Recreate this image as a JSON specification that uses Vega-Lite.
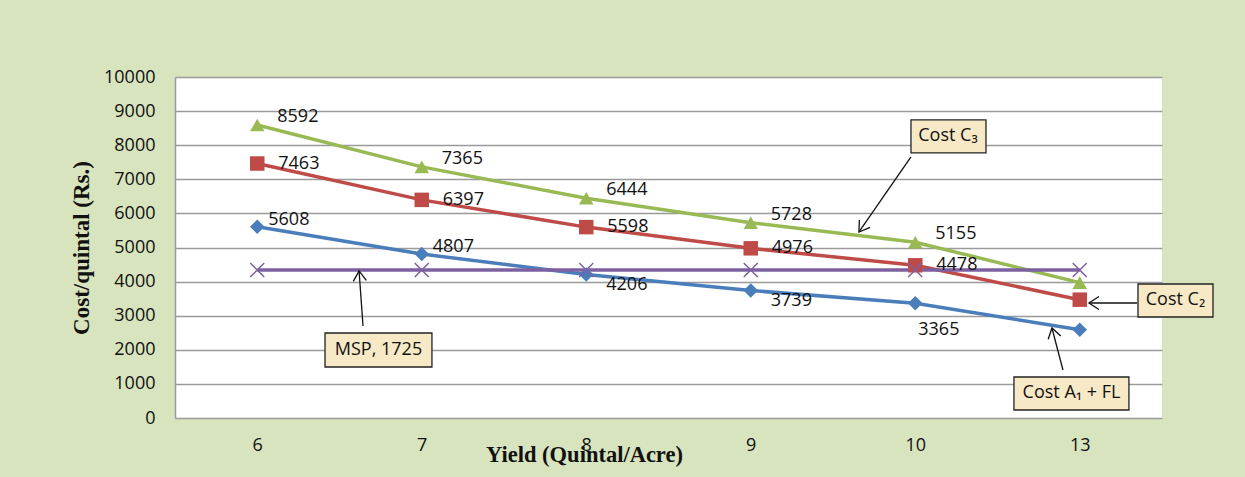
{
  "$schema": "https://vega.github.io/schema/vega-lite/v6.json",
  "width": 987,
  "height": 341,
  "autosize": {"type": "none"},
  "padding": {"left": 175, "top": 77, "right": 83, "bottom": 59},
  "background": "#D7E4BD",
  "config": {
    "view": {"fill": "white", "stroke": null},
    "font": "Open Sans",
    "text": {"font": "Open Sans", "fontSize": 18, "color": "#111"}
  },
  "resolve": {"scale": {"x": "independent", "y": "independent"}},
  "layer": [
    {
      "data": {
        "values": [
          {"yield": 6, "series": "Cost A1 + FL", "cost": 5608},
          {"yield": 7, "series": "Cost A1 + FL", "cost": 4807},
          {"yield": 8, "series": "Cost A1 + FL", "cost": 4206},
          {"yield": 9, "series": "Cost A1 + FL", "cost": 3739},
          {"yield": 10, "series": "Cost A1 + FL", "cost": 3365},
          {"yield": 13, "series": "Cost A1 + FL", "cost": 2590},
          {"yield": 6, "series": "Cost C2", "cost": 7463},
          {"yield": 7, "series": "Cost C2", "cost": 6397},
          {"yield": 8, "series": "Cost C2", "cost": 5598},
          {"yield": 9, "series": "Cost C2", "cost": 4976},
          {"yield": 10, "series": "Cost C2", "cost": 4478},
          {"yield": 13, "series": "Cost C2", "cost": 3470},
          {"yield": 6, "series": "Cost C3", "cost": 8592},
          {"yield": 7, "series": "Cost C3", "cost": 7365},
          {"yield": 8, "series": "Cost C3", "cost": 6444},
          {"yield": 9, "series": "Cost C3", "cost": 5728},
          {"yield": 10, "series": "Cost C3", "cost": 5155},
          {"yield": 13, "series": "Cost C3", "cost": 3970},
          {"yield": 6, "series": "MSP", "cost": 4340},
          {"yield": 7, "series": "MSP", "cost": 4340},
          {"yield": 8, "series": "MSP", "cost": 4340},
          {"yield": 9, "series": "MSP", "cost": 4340},
          {"yield": 10, "series": "MSP", "cost": 4340},
          {"yield": 13, "series": "MSP", "cost": 4340}
        ]
      },
      "encoding": {
        "x": {
          "field": "yield", "type": "ordinal",
          "scale": {"type": "point", "padding": 0.5},
          "axis": {
            "title": "Yield (Quintal/Acre)",
            "titleFont": "Liberation Serif", "titleFontSize": 22.5, "titleFontWeight": "bold", "titleColor": "#111",
            "titleX": 409, "titleY": 43, "titleBaseline": "alphabetic", "titleAlign": "center",
            "labelAngle": 0, "labelFont": "Open Sans", "labelFontSize": 18, "labelColor": "#111",
            "labelPadding": 18, "ticks": false, "domain": false, "grid": false
          }
        },
        "y": {
          "field": "cost", "type": "quantitative",
          "scale": {"domain": [0, 10000], "nice": false},
          "axis": {
            "title": "Cost/quintal (Rs.)",
            "titleFont": "Liberation Serif", "titleFontSize": 23, "titleFontWeight": "bold", "titleColor": "#111",
            "titleX": -94, "titleY": 170.5, "titleAngle": -90, "titleAlign": "center", "titleBaseline": "middle",
            "values": [0, 1000, 2000, 3000, 4000, 5000, 6000, 7000, 8000, 9000, 10000],
            "format": "d",
            "labelFont": "Open Sans", "labelFontSize": 18, "labelColor": "#111", "labelPadding": 20,
            "ticks": false, "domain": true, "domainColor": "#9A9A9A", "domainWidth": 1.5,
            "grid": true, "gridColor": "#9A9A9A", "gridWidth": 1.5
          }
        },
        "color": {
          "field": "series", "type": "nominal", "legend": null,
          "scale": {
            "domain": ["Cost A1 + FL", "Cost C2", "Cost C3", "MSP"],
            "range": ["#4A7EBB", "#BE4B48", "#98B954", "#7D60A0"]
          }
        }
      },
      "layer": [
        {"mark": {"type": "line", "strokeWidth": 3.5}},
        {
          "transform": [{"filter": "datum.series !== 'MSP'"}],
          "mark": {"type": "point", "filled": true, "opacity": 1, "size": 210},
          "encoding": {
            "shape": {
              "field": "series", "type": "nominal", "legend": null,
              "scale": {"domain": ["Cost A1 + FL", "Cost C2", "Cost C3"], "range": ["diamond", "square", "triangle-up"]}
            }
          }
        },
        {
          "transform": [{"filter": "datum.series === 'MSP'"}],
          "mark": {"type": "point", "filled": false, "opacity": 1, "size": 196, "strokeWidth": 1.5,
                   "shape": "M-1,-1L1,1M-1,1L1,-1"}
        },
        {
          "transform": [{"filter": "datum.series === 'Cost C3' && datum.yield !== 13"}],
          "mark": {"type": "text", "align": "left", "baseline": "middle", "dx": 20, "dy": -8},
          "encoding": {"text": {"field": "cost", "type": "quantitative", "format": "d"}, "color": {"value": "#111"}}
        },
        {
          "transform": [{"filter": "datum.series === 'Cost C2' && datum.yield !== 13"}],
          "mark": {"type": "text", "align": "left", "baseline": "middle", "dx": 21, "dy": 0},
          "encoding": {"text": {"field": "cost", "type": "quantitative", "format": "d"}, "color": {"value": "#111"}}
        },
        {
          "transform": [{"filter": "datum.series === 'Cost A1 + FL' && (datum.yield === 6 || datum.yield === 7)"}],
          "mark": {"type": "text", "align": "left", "baseline": "middle", "dx": 11, "dy": -7},
          "encoding": {"text": {"field": "cost", "type": "quantitative", "format": "d"}, "color": {"value": "#111"}}
        },
        {
          "transform": [{"filter": "datum.series === 'Cost A1 + FL' && (datum.yield === 8 || datum.yield === 9)"}],
          "mark": {"type": "text", "align": "left", "baseline": "middle", "dx": 20, "dy": 10},
          "encoding": {"text": {"field": "cost", "type": "quantitative", "format": "d"}, "color": {"value": "#111"}}
        },
        {
          "transform": [{"filter": "datum.series === 'Cost A1 + FL' && datum.yield === 10"}],
          "mark": {"type": "text", "align": "left", "baseline": "middle", "dx": 3, "dy": 27},
          "encoding": {"text": {"field": "cost", "type": "quantitative", "format": "d"}, "color": {"value": "#111"}}
        }
      ]
    },
    {
      "layer": [
        {
          "data": {
            "values": [
              {"x1": 4.474, "y1": 7655, "x2": 4.158, "y2": 5455},
              {"x1": 5.848, "y1": 3373, "x2": 5.556, "y2": 3373},
              {"x1": 5.398, "y1": 1408, "x2": 5.331, "y2": 2640},
              {"x1": 1.143, "y1": 2698, "x2": 1.119, "y2": 4312}
            ]
          },
          "mark": {"type": "rule", "color": "#111", "strokeWidth": 1.3},
          "encoding": {
            "x": {"field": "x1", "type": "quantitative", "scale": {"domain": [0, 6], "nice": false, "zero": false}, "axis": null},
            "x2": {"field": "x2"},
            "y": {"field": "y1", "type": "quantitative", "scale": {"domain": [0, 10000], "nice": false}, "axis": null},
            "y2": {"field": "y2"}
          }
        },
        {
          "data": {"values": [{"x": 4.158, "y": 5455}]},
          "mark": {"type": "point", "shape": "M-1,-0.65L0,0L-1,0.65", "size": 400, "filled": false, "opacity": 1, "color": "#111", "strokeWidth": 1.3, "angle": 124.7},
          "encoding": {
            "x": {"field": "x", "type": "quantitative", "axis": null},
            "y": {"field": "y", "type": "quantitative", "axis": null}
          }
        },
        {
          "data": {"values": [{"x": 5.556, "y": 3373}]},
          "mark": {"type": "point", "shape": "M-1,-0.65L0,0L-1,0.65", "size": 400, "filled": false, "opacity": 1, "color": "#111", "strokeWidth": 1.3, "angle": 180},
          "encoding": {
            "x": {"field": "x", "type": "quantitative", "axis": null},
            "y": {"field": "y", "type": "quantitative", "axis": null}
          }
        },
        {
          "data": {"values": [{"x": 5.331, "y": 2640}]},
          "mark": {"type": "point", "shape": "M-1,-0.65L0,0L-1,0.65", "size": 400, "filled": false, "opacity": 1, "color": "#111", "strokeWidth": 1.3, "angle": 255.3},
          "encoding": {
            "x": {"field": "x", "type": "quantitative", "axis": null},
            "y": {"field": "y", "type": "quantitative", "axis": null}
          }
        },
        {
          "data": {"values": [{"x": 1.119, "y": 4312}]},
          "mark": {"type": "point", "shape": "M-1,-0.65L0,0L-1,0.65", "size": 400, "filled": false, "opacity": 1, "color": "#111", "strokeWidth": 1.3, "angle": 265.8},
          "encoding": {
            "x": {"field": "x", "type": "quantitative", "axis": null},
            "y": {"field": "y", "type": "quantitative", "axis": null}
          }
        },
        {
          "data": {
            "values": [
              {"label": "Cost C₃", "x1": 4.474, "x2": 4.930, "y1": 7772, "y2": 8740, "tx": 4.699, "ty": 8256},
              {"label": "Cost C₂", "x1": 5.854, "x2": 6.310, "y1": 2962, "y2": 3930, "tx": 6.082, "ty": 3446},
              {"label": "Cost A₁ + FL", "x1": 5.100, "x2": 5.799, "y1": 235, "y2": 1203, "tx": 5.450, "ty": 719},
              {"label": "MSP, 1725", "x1": 0.912, "x2": 1.562, "y1": 1496, "y2": 2493, "tx": 1.237, "ty": 1995}
            ]
          },
          "layer": [
            {
              "mark": {"type": "rect", "fill": "#F7E9C6", "stroke": "#222", "strokeWidth": 1.3},
              "encoding": {
                "x": {"field": "x1", "type": "quantitative", "axis": null},
                "x2": {"field": "x2"},
                "y": {"field": "y1", "type": "quantitative", "axis": null},
                "y2": {"field": "y2"}
              }
            },
            {
              "mark": {"type": "text", "align": "center", "baseline": "middle", "fontSize": 18, "color": "#111"},
              "encoding": {
                "x": {"field": "tx", "type": "quantitative", "axis": null},
                "y": {"field": "ty", "type": "quantitative", "axis": null},
                "text": {"field": "label", "type": "nominal"}
              }
            }
          ]
        }
      ]
    }
  ]
}
